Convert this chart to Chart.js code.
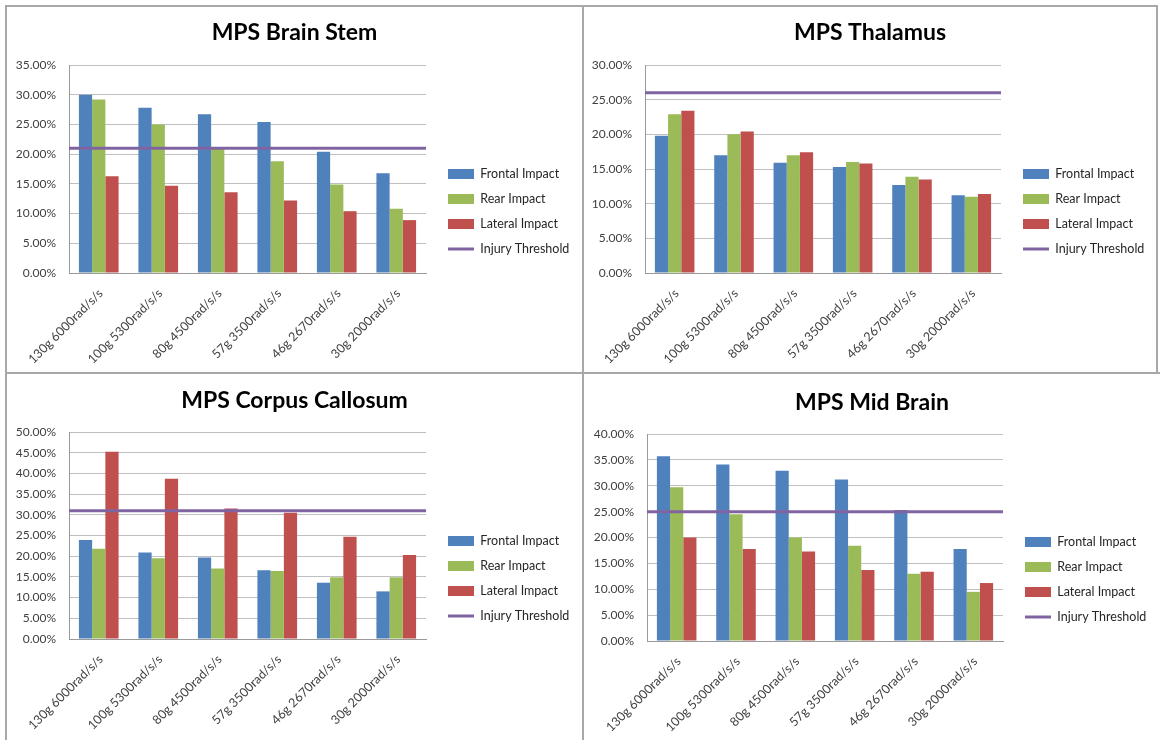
<!DOCTYPE html>
<html>
<head>
<meta charset="utf-8">
<title>MPS by region</title>
<script src="https://cdn.jsdelivr.net/npm/chart.js@4.4.1/dist/chart.umd.min.js"></script>
<style>
  html, body { margin: 0; padding: 0; background: #ffffff; }
  body { position: relative; width: 1160px; height: 740px; overflow: hidden; }
  .rule { position: absolute; background: #a8a8a8; }
  canvas { position: absolute; }
</style>
</head>
<body>
<div class="rule" style="left:5px;top:5px;width:1153px;height:2px"></div>
<div class="rule" style="left:5px;top:5px;width:2px;height:735px"></div>
<div class="rule" style="left:582px;top:5px;width:2px;height:735px"></div>
<div class="rule" style="left:1156px;top:5px;width:2px;height:369px"></div>
<div class="rule" style="left:5px;top:372px;width:1155px;height:2px"></div>

<canvas id="brainStem" width="575" height="365" style="left:7px;top:7px"></canvas>
<canvas id="thalamus" width="572" height="365" style="left:584px;top:7px"></canvas>
<canvas id="corpus" width="575" height="366" style="left:7px;top:374px"></canvas>
<canvas id="midBrain" width="576" height="366" style="left:584px;top:374px"></canvas>

<script>
// Impact conditions (peak linear g / angular acceleration)
const categories = ['130g 6000rad/s/s', '100g 5300rad/s/s', '80g 4500rad/s/s',
                    '57g 3500rad/s/s', '46g 2670rad/s/s', '30g 2000rad/s/s'];
const seriesNames = ['Frontal Impact', 'Rear Impact', 'Lateral Impact', 'Injury Threshold'];

// Maximum principal strain, percent
const brainStemFrontal = [30.0, 27.8, 26.7, 25.4, 20.4, 16.8];
const brainStemRear    = [29.2, 25.0, 20.9, 18.8, 14.9, 10.8];
const brainStemLateral = [16.3, 14.7, 13.6, 12.2, 10.4, 8.9];
const brainStemThreshold = 21.0;

const thalamusFrontal = [19.8, 17.0, 15.9, 15.3, 12.7, 11.2];
const thalamusRear    = [22.9, 20.0, 17.0, 16.0, 13.9, 11.0];
const thalamusLateral = [23.4, 20.4, 17.4, 15.8, 13.5, 11.4];
const thalamusThreshold = 26.0;

const corpusFrontal = [23.9, 20.9, 19.7, 16.6, 13.6, 11.5];
const corpusRear    = [21.8, 19.5, 17.0, 16.4, 14.9, 14.9];
const corpusLateral = [45.2, 38.7, 31.5, 30.5, 24.7, 20.3];
const corpusThreshold = 31.0;

const midBrainFrontal = [35.7, 34.1, 32.9, 31.2, 25.3, 17.8];
const midBrainRear    = [29.7, 24.5, 20.0, 18.4, 13.0, 9.5];
const midBrainLateral = [20.0, 17.8, 17.3, 13.7, 13.4, 11.2];
const midBrainThreshold = 25.0;

// y-axis upper limits (percent) and step
const yMaxBrainStem = 35;
const yMaxThalamus = 30;
const yMaxCorpus = 50;
const yMaxMidBrain = 40;
const yStep = 5;

const COLORS = ['#4F81BD', '#9BBB59', '#C0504D', '#8064A2'];
const FONT = 'Lato, "Open Sans", sans-serif';
const LEGEND_PAD = 12.5;

// Fixes the legend column width and nudges it into place after layout.
const legendPlacement = {
  id: 'legendPlacement',
  beforeLayout(chart, args, opts) {
    const lg = chart.legend;
    if (lg && !lg.__placed) {
      const fit = lg.fit;
      lg.fit = function () { fit.call(this); this.width = opts.width; };
      lg.__placed = true;
    }
  },
  afterLayout(chart, args, opts) {
    const lg = chart.legend;
    if (!lg) return;
    lg.left += opts.dx; lg.right += opts.dx;
    lg.top += opts.dy; lg.bottom += opts.dy;
  }
};

// Horizontal threshold across the full plot width, placed with the y scale.
const thresholdLine = {
  id: 'thresholdLine',
  afterDatasetsDraw(chart, args, opts) {
    const y = chart.scales.y.getPixelForValue(opts.value);
    const { left, right } = chart.chartArea;
    const ctx = chart.ctx;
    ctx.save();
    ctx.strokeStyle = opts.color;
    ctx.lineWidth = opts.width;
    ctx.beginPath();
    ctx.moveTo(left, y);
    ctx.lineTo(right, y);
    ctx.stroke();
    ctx.restore();
  }
};

function buildChart(canvasId, title, frontal, rear, lateral, threshold, yMax, box) {
  const canvas = document.getElementById(canvasId);
  const W = canvas.width, H = canvas.height;
  const titleSize = 23;
  const titleLine = titleSize * 1.2;

  new Chart(canvas, {
    type: 'bar',
    data: {
      labels: categories,
      datasets: [
        { label: seriesNames[0], data: frontal, backgroundColor: COLORS[0],
          borderWidth: 0, pointStyle: 'rect' },
        { label: seriesNames[1], data: rear, backgroundColor: COLORS[1],
          borderWidth: 0, pointStyle: 'rect' },
        { label: seriesNames[2], data: lateral, backgroundColor: COLORS[2],
          borderWidth: 0, pointStyle: 'rect' },
        // legend entry for the threshold; the line itself is drawn by thresholdLine
        { type: 'line', label: seriesNames[3], data: [],
          borderColor: COLORS[3], backgroundColor: COLORS[3], borderWidth: 3,
          pointRadius: 0, pointStyle: 'line', fill: false }
      ]
    },
    options: {
      responsive: false,
      animation: false,
      devicePixelRatio: 1,
      categoryPercentage: 3 / 4.5,
      barPercentage: 1.0,
      layout: { padding: { left: 0, right: 0, top: 0, bottom: 0 } },
      scales: {
        x: {
          grid: { display: false, drawTicks: false },
          border: { display: true, color: '#9a9a9a', width: 1 },
          ticks: { autoSkip: false, maxRotation: 45, minRotation: 45, padding: 13,
                   labelOffset: 2,
                   color: '#404040', font: { family: FONT, size: 12.5 } },
          afterFit: s => { s.height = H - box.bottom; }
        },
        y: {
          min: 0, max: yMax,
          grid: { color: '#c0c0c0', lineWidth: 1, drawTicks: false },
          border: { display: true, color: '#9a9a9a', width: 1 },
          ticks: { stepSize: yStep, padding: 13, color: '#404040',
                   font: { family: FONT, size: 12 },
                   callback: v => v.toFixed(2) + '%' },
          afterFit: s => { s.width = box.left; }
        }
      },
      plugins: {
        title: {
          display: true, text: title, color: '#000000',
          font: { family: FONT, size: titleSize, weight: 'bold' },
          padding: { top: box.titleY - titleLine / 2, bottom: box.top - box.titleY - titleLine / 2 }
        },
        legend: {
          position: 'right',
          align: 'center',
          labels: {
            usePointStyle: true, pointStyleWidth: 26, boxHeight: 10,
            padding: LEGEND_PAD, color: '#262626',
            font: { family: FONT, size: 12.5 }
          }
        },
        tooltip: { enabled: false },
        legendPlacement: {
          width: W - box.right,
          dx: box.legendX - box.right - LEGEND_PAD,
          dy: box.legendY - H / 2
        },
        thresholdLine: { value: threshold, color: COLORS[3], width: 3 }
      }
    },
    plugins: [legendPlacement, thresholdLine]
  });
}

buildChart('brainStem', 'MPS Brain Stem', brainStemFrontal, brainStemRear, brainStemLateral,
  brainStemThreshold, yMaxBrainStem,
  { left: 62, right: 419, top: 58, bottom: 266, titleY: 26, legendX: 441, legendY: 204.5 });

buildChart('thalamus', 'MPS Thalamus', thalamusFrontal, thalamusRear, thalamusLateral,
  thalamusThreshold, yMaxThalamus,
  { left: 61, right: 417, top: 58, bottom: 266, titleY: 26, legendX: 439, legendY: 204.5 });

buildChart('corpus', 'MPS Corpus Callosum', corpusFrontal, corpusRear, corpusLateral,
  corpusThreshold, yMaxCorpus,
  { left: 62, right: 419, top: 58, bottom: 265, titleY: 27, legendX: 441, legendY: 204.5 });

buildChart('midBrain', 'MPS Mid Brain', midBrainFrontal, midBrainRear, midBrainLateral,
  midBrainThreshold, yMaxMidBrain,
  { left: 63, right: 419, top: 60, bottom: 267, titleY: 29, legendX: 441, legendY: 205.5 });
</script>
</body>
</html>
